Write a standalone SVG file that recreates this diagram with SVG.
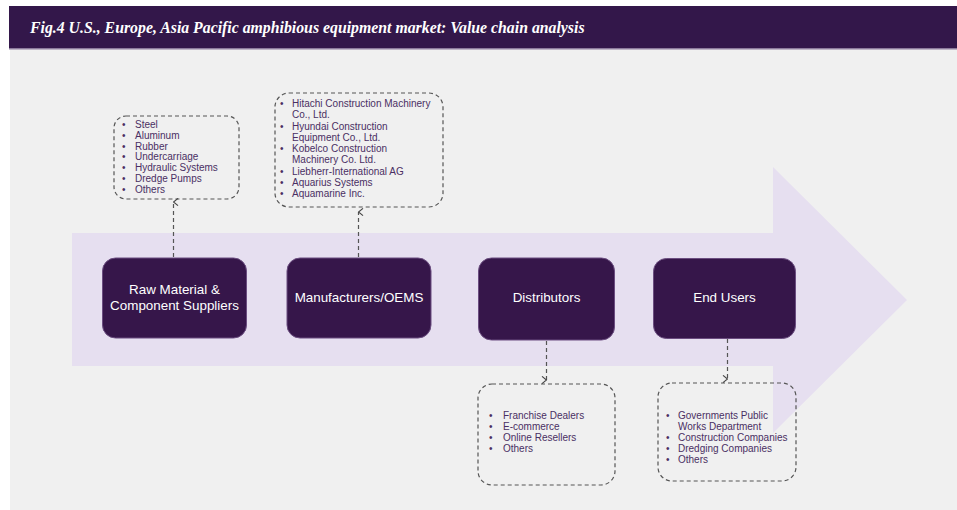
<svg xmlns="http://www.w3.org/2000/svg" width="957" height="510" viewBox="0 0 957 510">
  <defs>
    <marker id="chev" viewBox="0 0 10 10" refX="5" refY="1" markerWidth="9" markerHeight="9" markerUnits="userSpaceOnUse" orient="auto-start-reverse">
      <path d="M1,6 L5,1 L9,6" fill="none" stroke="#444" stroke-width="1.3"/>
    </marker>
    <style>
      .title { font-family: "Liberation Serif", "Times New Roman", serif; font-style: italic; font-weight: bold; font-size: 15.8px; fill: #ffffff; }
      .node rect { fill: #36164a; stroke: #6b4d80; stroke-width: 1; }
      .node text { font-family: "Liberation Sans", Arial, sans-serif; font-size: 13.4px; fill: #ffffff; text-anchor: middle; }
      .list rect { fill: none; stroke: #555555; stroke-width: 1.2; stroke-dasharray: 4 3; }
      .list text { font-family: "Liberation Sans", Arial, sans-serif; font-size: 10px; fill: #4a2f63; }
      .conn line { stroke: #555555; stroke-width: 1.2; stroke-dasharray: 4 3; }
    </style>
  </defs>

  <!-- page -->
  <rect x="0" y="0" width="957" height="510" fill="#ffffff"/>
  <rect x="10" y="49" width="947" height="461" fill="#f0f0f0"/>

  <!-- header band -->
  <rect x="9" y="6" width="948" height="43" fill="#33174a"/>
  <rect x="9" y="48" width="948" height="1.5" fill="#8c7a9c"/>
  <text class="title" x="30" y="33">Fig.4 U.S., Europe, Asia Pacific amphibious equipment market: Value chain analysis</text>

  <!-- background flow arrow -->
  <polygon points="72,233 773,233 773,167 907,300 773,433 773,366 72,366" fill="#e6dff0"/>

  <!-- list boxes -->
  <g id="list-raw" class="list">
    <rect x="114" y="116" width="125" height="83" rx="12"/>
    <text x="122" y="128">•</text><text x="135" y="128">Steel</text>
    <text x="122" y="139">•</text><text x="135" y="139">Aluminum</text>
    <text x="122" y="150">•</text><text x="135" y="150">Rubber</text>
    <text x="122" y="160">•</text><text x="135" y="160">Undercarriage</text>
    <text x="122" y="171">•</text><text x="135" y="171">Hydraulic Systems</text>
    <text x="122" y="182">•</text><text x="135" y="182">Dredge Pumps</text>
    <text x="122" y="193">•</text><text x="135" y="193">Others</text>
  </g>

  <g id="list-oem" class="list">
    <rect x="275" y="93" width="168" height="114" rx="14"/>
    <text x="280" y="107">•</text><text x="292" y="107">Hitachi Construction Machinery</text>
    <text x="292" y="118">Co., Ltd.</text>
    <text x="280" y="130">•</text><text x="292" y="130">Hyundai Construction</text>
    <text x="292" y="141">Equipment Co., Ltd.</text>
    <text x="280" y="152">•</text><text x="292" y="152">Kobelco Construction</text>
    <text x="292" y="163">Machinery Co. Ltd.</text>
    <text x="280" y="175">•</text><text x="292" y="175">Liebherr-International AG</text>
    <text x="280" y="186">•</text><text x="292" y="186">Aquarius Systems</text>
    <text x="280" y="197">•</text><text x="292" y="197">Aquamarine Inc.</text>
  </g>

  <g id="list-dist" class="list">
    <rect x="478" y="384" width="137" height="101" rx="14"/>
    <text x="489" y="419">•</text><text x="503" y="419">Franchise Dealers</text>
    <text x="489" y="430">•</text><text x="503" y="430">E-commerce</text>
    <text x="489" y="441">•</text><text x="503" y="441">Online Resellers</text>
    <text x="489" y="452">•</text><text x="503" y="452">Others</text>
  </g>

  <g id="list-end" class="list">
    <rect x="658" y="383" width="138" height="98" rx="14"/>
    <text x="666" y="419">•</text><text x="678" y="419">Governments Public</text>
    <text x="678" y="430">Works Department</text>
    <text x="666" y="441">•</text><text x="678" y="441">Construction Companies</text>
    <text x="666" y="452">•</text><text x="678" y="452">Dredging Companies</text>
    <text x="666" y="463">•</text><text x="678" y="463">Others</text>
  </g>

  <!-- connectors -->
  <g id="connectors" class="conn">
    <line x1="173.5" y1="257" x2="173.5" y2="202" marker-end="url(#chev)"/>
    <line x1="358.5" y1="257" x2="358.5" y2="212" marker-end="url(#chev)"/>
    <line x1="546.5" y1="341" x2="546.5" y2="380" marker-end="url(#chev)"/>
    <line x1="727.5" y1="339" x2="727.5" y2="379" marker-end="url(#chev)"/>
  </g>

  <!-- value chain stages -->
  <g id="node-raw" class="node">
    <rect x="102.5" y="258" width="144" height="80" rx="13"/>
    <text x="174.5" y="294">Raw Material &amp;</text>
    <text x="174.5" y="310">Component Suppliers</text>
  </g>
  <g id="node-oem" class="node">
    <rect x="287" y="258" width="144" height="80" rx="13"/>
    <text x="359" y="302">Manufacturers/OEMS</text>
  </g>
  <g id="node-dist" class="node">
    <rect x="478.5" y="258" width="136" height="82" rx="13"/>
    <text x="546.5" y="302">Distributors</text>
  </g>
  <g id="node-end" class="node">
    <rect x="653.5" y="258.5" width="142" height="80" rx="13"/>
    <text x="724.5" y="302">End Users</text>
  </g>
</svg>
